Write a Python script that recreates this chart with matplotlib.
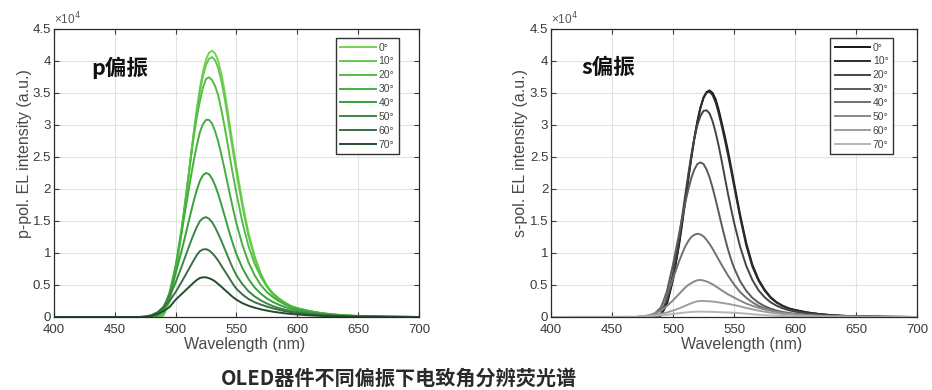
import matplotlib.pyplot as plt

plt.rcParams['font.family'] = ['Liberation Sans', 'DejaVu Sans']

# wavelength grid (nm) shared by all curves
wl = [400, 470, 475, 480, 485, 490, 495, 500, 505,
      507.5, 510, 512.5, 515, 517.5, 520, 522.5, 525, 527.5, 530, 532.5, 535,
      537.5, 540, 542.5, 545, 547.5, 550,
      555, 560, 565, 570, 575, 580, 585, 590, 595, 600,
      610, 620, 630, 640, 650, 675, 700]

angles = ['0°', '10°', '20°', '30°', '40°', '50°', '60°', '70°']

# p-polarised EL intensity (a.u.)
p00 = [0, 0, 0, 0, 0, 200, 2400, 6900, 13300,
       17050, 21000, 25050, 29000, 32600, 35800, 38350, 40200, 41300, 41600, 41150, 40000,
       38100, 35600, 32600, 29400, 26350, 23400,
       17800, 13000, 9500, 6800, 4900, 3600, 2700, 2050, 1650, 1350,
       900, 580, 370, 230, 140, 40, 0]
p10 = [0, 0, 0, 0, 0, 350, 2700, 7200, 13500,
       17150, 21000, 24950, 28800, 32300, 35300, 37700, 39400, 40350, 40600, 40100, 38900,
       36950, 34500, 31600, 28500, 25500, 22600,
       17200, 12600, 9200, 6600, 4800, 3500, 2600, 2000, 1600, 1300,
       870, 560, 360, 220, 135, 40, 0]
p20 = [0, 0, 0, 0, 50, 600, 3200, 7800, 14000,
       17550, 21200, 24850, 28300, 31300, 33800, 35850, 37200, 37450, 37000, 36050, 34600,
       32500, 30000, 27300, 24500, 21850, 19300,
       14700, 11000, 8300, 6300, 4800, 3700, 2900, 2250, 1700, 1380,
       950, 620, 400, 250, 155, 45, 0]
p30 = [0, 0, 0, 50, 250, 1100, 3800, 8000, 13300,
       16150, 19000, 21850, 24500, 26900, 28900, 30150, 30800, 30800, 30200, 29000, 27400,
       25450, 23300, 21050, 18800, 16650, 14600,
       11200, 8500, 6500, 5000, 3900, 3100, 2450, 1950, 1600, 1300,
       880, 570, 370, 230, 145, 40, 0]
p40 = [0, 0, 20, 150, 550, 1500, 3700, 6800, 10400,
       12350, 14300, 16300, 18200, 19900, 21300, 22150, 22500, 22300, 21600, 20550, 19200,
       17650, 16000, 14350, 12700, 11200, 9800,
       7600, 5900, 4600, 3650, 2900, 2350, 1900, 1550, 1280, 1050,
       720, 470, 300, 190, 120, 35, 0]
p50 = [0, 0, 50, 250, 700, 1600, 3200, 5400, 7900,
       9200, 10500, 11800, 13000, 14100, 15000, 15450, 15600, 15350, 14800, 14000, 13000,
       11950, 10800, 9650, 8500, 7450, 6500,
       5100, 4000, 3200, 2600, 2100, 1700, 1400, 1150, 950, 780,
       530, 350, 225, 145, 90, 25, 0]
p60 = [0, 0, 60, 280, 700, 1400, 2500, 3900, 5500,
       6350, 7200, 8050, 8900, 9700, 10300, 10550, 10600, 10400, 10000, 9450, 8800,
       8050, 7300, 6550, 5800, 5050, 4400,
       3500, 2800, 2300, 1950, 1620, 1350, 1120, 900, 750, 620,
       420, 270, 175, 110, 70, 20, 0]
p70 = [0, 0, 30, 150, 450, 900, 1550, 2700, 3600,
       4050, 4500, 4950, 5400, 5800, 6100, 6200, 6200, 6050, 5850, 5550, 5150,
       4750, 4300, 3900, 3450, 3050, 2700,
       2150, 1750, 1450, 1200, 1000, 830, 690, 570, 470, 390,
       260, 170, 110, 70, 45, 12, 0]

# s-polarised EL intensity (a.u.)
s00 = [0, 0, 0, 0, 0, 200, 2000, 5800, 11300,
       14550, 18000, 21450, 24800, 27850, 30500, 32700, 34300, 35150, 35400, 35000, 34000,
       32350, 30300, 28250, 26000, 23550, 21000,
       16000, 11600, 8200, 5900, 4300, 3100, 2300, 1750, 1350, 1100,
       720, 460, 290, 180, 110, 30, 0]
s10 = [0, 0, 0, 0, 0, 250, 2200, 6000, 11600,
       14900, 18300, 21700, 25000, 28000, 30600, 32700, 34200, 35050, 35200, 34650, 33500,
       31800, 29800, 27650, 25400, 23000, 20500,
       15600, 11200, 7900, 5700, 4150, 3000, 2230, 1700, 1310, 1070,
       700, 450, 280, 175, 105, 30, 0]
s20 = [0, 0, 0, 0, 50, 500, 2700, 6800, 12500,
       15700, 19000, 22250, 25300, 27900, 30000, 31400, 32200, 32300, 31800, 30550, 28800,
       26700, 24300, 21800, 19300, 17000, 14800,
       11000, 8000, 5800, 4200, 3100, 2300, 1750, 1350, 1050, 850,
       560, 360, 230, 145, 90, 25, 0]
s30 = [0, 0, 0, 50, 300, 1300, 4000, 8200, 13000,
       15450, 17800, 19900, 21700, 23050, 23900, 24150, 23900, 23050, 21800, 20150, 18300,
       16300, 14300, 12400, 10600, 9050, 7700,
       5600, 4100, 3000, 2250, 1700, 1300, 1000, 780, 620, 500,
       330, 215, 140, 90, 55, 15, 0]
s40 = [0, 0, 30, 150, 550, 1500, 3400, 6000, 8700,
       9900, 11000, 11850, 12500, 12850, 13000, 12900, 12600, 12050, 11400, 10650, 9800,
       8950, 8100, 7300, 6500, 5800, 5100,
       3900, 3000, 2300, 1750, 1350, 1050, 820, 640, 500, 400,
       260, 170, 110, 70, 45, 12, 0]
s50 = [0, 0, 100, 250, 550, 1000, 1700, 2600, 3600,
       4100, 4600, 5000, 5300, 5550, 5750, 5780, 5700, 5550, 5350, 5100, 4800,
       4480, 4150, 3850, 3550, 3300, 3050,
       2550, 2100, 1750, 1450, 1200, 980, 800, 650, 530, 430,
       280, 180, 115, 72, 45, 12, 0]
s60 = [0, 30, 100, 220, 300, 450, 700, 1000, 1350,
       1550, 1750, 1950, 2150, 2320, 2450, 2500, 2500, 2480, 2450, 2400, 2350,
       2280, 2200, 2130, 2050, 1960, 1870,
       1650, 1420, 1200, 1000, 830, 680, 560, 460, 380, 310,
       200, 130, 85, 55, 35, 10, 0]
s70 = [0, 20, 50, 100, 170, 250, 350, 470, 590,
       650, 700, 750, 790, 815, 830, 835, 830, 825, 810, 795, 780,
       760, 740, 720, 700, 680, 660,
       600, 520, 440, 360, 290, 230, 185, 150, 120, 100,
       65, 42, 28, 18, 12, 4, 0]

p_curves = [p00, p10, p20, p30, p40, p50, p60, p70]
s_curves = [s00, s10, s20, s30, s40, s50, s60, s70]

p_colors = ['#76d254', '#64c94a', '#52be43', '#43b03e', '#37a03b', '#3c8646', '#3a6e45', '#244d2e']
s_colors = ['#161616', '#2c2c2c', '#444444', '#5a5a5a', '#707070', '#888888', '#9e9e9e', '#b6b6b6']

axcol = '#3a3a3a'

fig = plt.figure(figsize=(9.32, 3.9), dpi=100)
ax1 = fig.add_axes([0.0579, 0.1872, 0.3916, 0.7385])
ax2 = fig.add_axes([0.5912, 0.1872, 0.3927, 0.7385])


def style(ax, curves, colors, ylab, tag, tagx, leg_right):
    for y, c, a in zip(curves, colors, angles):
        ax.plot(wl, y, color=c, lw=1.4, label=a)
    ax.set_xlim(400, 700)
    ax.set_ylim(0, 45000)
    ax.set_xticks(range(400, 701, 50))
    yt = [i * 5000 for i in range(10)]
    ax.set_yticks(yt)
    ax.set_yticklabels(['0', '0.5', '1', '1.5', '2', '2.5', '3', '3.5', '4', '4.5'])
    ax.grid(True, color='#e2e2e2', lw=0.8)
    ax.set_axisbelow(True)
    ax.tick_params(direction='in', length=3.5, width=0.8, top=True, right=True,
                   labelsize=9.5, colors=axcol, pad=2)
    ax.tick_params(axis='x', pad=5)
    for sp in ax.spines.values():
        sp.set_color('#2a2a2a')
        sp.set_linewidth(0.9)
    ax.set_xlabel('Wavelength (nm)', fontsize=11.5, color='#4a4a4a', va='center')
    ax.xaxis.set_label_coords(0.522, -0.094)
    ax.set_ylabel(ylab, fontsize=11.5, color='#4a4a4a', va='center')
    ax.yaxis.set_label_coords(-0.082, 0.568)
    ax.text(0.0, 1.005, '×10$^4$', transform=ax.transAxes, fontsize=8.5,
            color='#555555', va='bottom', ha='left')
    ax.text(tagx, 39000, tag, fontsize=15.5, fontweight='bold', va='center',
            family=['Noto Sans CJK SC', 'DejaVu Sans'], color='#111111')
    leg = ax.legend(loc='upper right', bbox_to_anchor=(leg_right, 0.969), borderaxespad=0,
                    fontsize=7.5, handlelength=3.4, labelspacing=0.37, fancybox=False,
                    framealpha=1, edgecolor='#333333', handletextpad=0.25,
                    borderpad=0.45, labelcolor='#444444')
    leg.get_frame().set_linewidth(1.0)


style(ax1, p_curves, p_colors, 'p-pol. EL intensity (a.u.)', 'p偏振', 431, 0.945)
style(ax2, s_curves, s_colors, 's-pol. EL intensity (a.u.)', 's偏振', 425, 0.935)

fig.text(0.428, 0.031, 'OLED器件不同偏振下电致角分辨荧光谱', ha='center', va='center',
         fontsize=14.5, fontweight='bold', color='#2a2a2a',
         family=['Noto Sans CJK SC', 'DejaVu Sans'])

fig.savefig('out.png', dpi=100)
